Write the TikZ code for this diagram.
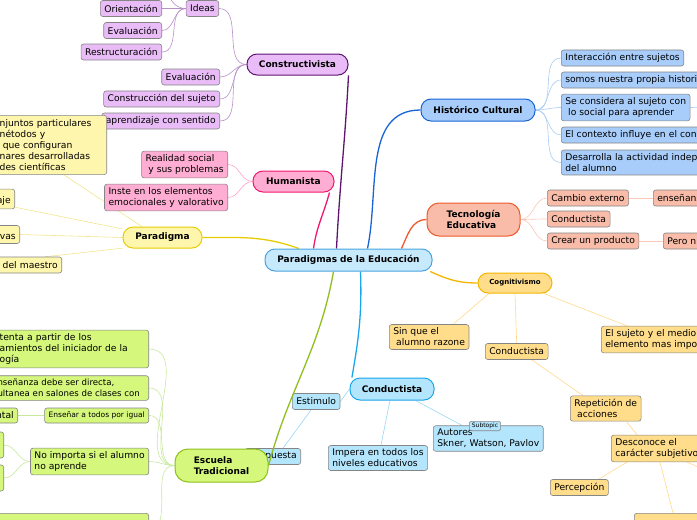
\documentclass[tikz,border=0pt]{standalone}
\usepackage{fontspec}
\setmainfont{DejaVu Sans}
\usetikzlibrary{calc}
\pgfdeclarelayer{bg}
\pgfsetlayers{bg,main}

\definecolor{centfill}{HTML}{C6E9FB}
\definecolor{centline}{HTML}{4AA3DF}
\definecolor{purfill}{HTML}{E9BCF7}
\definecolor{purdark}{HTML}{5E1470}
\definecolor{purlight}{HTML}{B890C8}
\definecolor{pinkfill}{HTML}{FFADD2}
\definecolor{pinkdark}{HTML}{F0186E}
\definecolor{pinklight}{HTML}{FFA0CC}
\definecolor{yelfill}{HTML}{FFF6AE}
\definecolor{yeldark}{HTML}{E6CC00}
\definecolor{yellight}{HTML}{F3E58E}
\definecolor{histfill}{HTML}{A8CDFA}
\definecolor{histdark}{HTML}{1864D4}
\definecolor{histlight}{HTML}{A8CCF4}
\definecolor{tecfill}{HTML}{F8BCA9}
\definecolor{tecdark}{HTML}{EE5A2C}
\definecolor{teclight}{HTML}{FAC6B6}
\definecolor{cogfill}{HTML}{FFDD8B}
\definecolor{cogdark}{HTML}{F4B500}
\definecolor{coglight}{HTML}{FFD98C}
\definecolor{condfill}{HTML}{B3E5FC}
\definecolor{conddark}{HTML}{19A6EA}
\definecolor{condlight}{HTML}{99D6F2}
\definecolor{escfill}{HTML}{D5F77C}
\definecolor{escdark}{HTML}{8EBF1E}
\definecolor{esclight}{HTML}{C8E89C}
\definecolor{leafline}{HTML}{858585}

\tikzset{
  topic/.style={draw, rounded corners=10pt, line width=1pt, inner sep=0pt,
    font=\fontsize{9}{11}\selectfont\bfseries},
  leaf/.style={draw=leafline, rounded corners=2.5pt, line width=0.6pt, align=left,
    inner xsep=4pt, inner ysep=3.4pt, minimum height=16pt},
  lleaf/.style={leaf, anchor=east},
  rleaf/.style={leaf, anchor=west},
  mainlink/.style={line width=1.3pt},
  leaflink/.style={line width=0.6pt},
}

\begin{document}
\begin{tikzpicture}[x=1pt, y=-1pt, every node/.style={font=\fontsize{9.2}{11}\selectfont}]
\useasboundingbox (0,0) rectangle (697,520);
\clip (0,0) rectangle (697,520);

% centre
\node[topic, fill=centfill, draw=centline, minimum width=167pt, minimum height=22pt] (cent) at (348.5,260) {Paradigmas de la Educación};

% Constructivista
\node[topic, fill=purfill, draw=purdark, minimum width=101pt, minimum height=21pt] (cons) at (297.5,64.5) {Constructivista};
\node[lleaf, fill=purfill] (ideas) at (219,8.5) {Ideas};
\node[lleaf, fill=purfill] (orient) at (162,8.5) {Orientación};
\node[lleaf, fill=purfill] (evalA) at (162,30.5) {Evaluación};
\node[lleaf, fill=purfill] (restr) at (162,52) {Restructuración};
\coordinate (ideasup) at (166,-14);
\node[lleaf, fill=purfill] (evalB) at (220,77) {Evaluación};
\node[lleaf, fill=purfill] (constr) at (220,99) {Construcción del sujeto};
\node[lleaf, fill=purfill] (aprend) at (220,121) {aprendizaje con sentido};

% Humanista
\node[topic, fill=pinkfill, draw=pinkdark, minimum width=81pt, minimum height=21pt] (hum) at (293.5,181.5) {Humanista};
\node[lleaf, fill=pinkfill] (realid) at (228,164.5) {Realidad social\\\ y sus problemas};
\node[lleaf, fill=pinkfill] (inste) at (228,197.5) {Inste en los elementos\\emocionales y valorativo};

% Paradigma
\node[topic, fill=yelfill, draw=yeldark, minimum width=79pt, minimum height=21pt] (parad) at (162.5,237.5) {Paradigma};
\node[lleaf, fill=yelfill, text width=103pt, inner ysep=4pt, font=\fontsize{9.2}{11}\selectfont] (conj) at (107,145) {njuntos particulares\\nétodos y\\\ que configuran\\nares desarrolladas\\des científicas};
\node[lleaf, fill=yelfill, text width=20pt, align=right] (aje) at (15,199) {~\\aje};
\node[lleaf, fill=yelfill, text width=25pt, align=right] (ivas) at (20,234.5) {~\\ivas};
\node[lleaf, fill=yelfill, text width=70pt, align=right] (maes) at (62,265) {r del maestro};

% Historico Cultural
\node[topic, fill=histfill, draw=histdark, minimum width=114pt, minimum height=22pt] (hist) at (478,110) {Histórico Cultural};
\node[rleaf, fill=histfill] (inter) at (561,58) {Interacción entre sujetos};
\node[rleaf, fill=histfill, text width=150pt] (somos) at (561,80) {somos nuestra propia historia};
\node[rleaf, fill=histfill] (consid) at (561,107.5) {Se considera al sujeto con\\\ lo social para aprender};
\coordinate (considR) at (712,108);
\node[rleaf, fill=histfill, text width=150pt] (contx) at (561,135) {El contexto influye en el conc};
\node[rleaf, fill=histfill, text width=150pt] (desar) at (561,162.5) {Desarrolla la actividad indepe\\del alumno};

% Tecnologia Educativa
\node[topic, fill=tecfill, draw=tecdark, rounded corners=12pt, minimum width=93pt, minimum height=33pt, align=left] (tec) at (473.5,219.5) {Tecnología\\Educativa};
\node[rleaf, fill=tecfill] (cambio) at (547,198) {Cambio externo};
\node[rleaf, fill=tecfill] (tcond) at (547,219) {Conductista};
\node[rleaf, fill=tecfill] (crear) at (547,241) {Crear un producto};
\node[rleaf, fill=tecfill, text width=60pt] (ensen) at (653,198) {enseñanz};
\node[rleaf, fill=tecfill, text width=60pt] (pero) at (663,241) {Pero n};

% Cognitivismo
\node[topic, fill=cogfill, draw=cogdark, minimum width=74pt, minimum height=20pt, font=\fontsize{7}{8}\selectfont\bfseries] (cog) at (515,283) {Cognitivismo};
\node[rleaf, fill=cogfill] (sinq) at (389,337) {Sin que el\\\ alumno razone};
\node[rleaf, fill=cogfill] (ccond) at (485,351.5) {Conductista};
\node[rleaf, fill=cogfill, text width=110pt] (suj) at (601,339.5) {El sujeto y el medio\\elemento mas impor};
\node[rleaf, fill=cogfill] (rep) at (570,408.5) {Repetición de\\\ acciones};
\node[rleaf, fill=cogfill] (desc) at (611,448.5) {Desconoce el\\carácter subjetivo};
\node[rleaf, fill=cogfill] (perc) at (550,487.5) {Percepción};
\node[leaf, fill=cogfill, anchor=north west, minimum width=90pt, minimum height=27pt] (cbot) at (634,513) {};
\coordinate (descR) at (712,473);

% Conductista
\node[lleaf, fill=condfill] (resp) at (301,456.5) {Respuesta};
\node[topic, fill=condfill, draw=conddark, minimum width=84pt, minimum height=22pt] (cond) at (392,389) {Conductista};
\node[rleaf, fill=condfill] (estim) at (292,401.5) {Estimulo};
\node[rleaf, fill=condfill] (imp) at (328,458) {Impera en todos los\\niveles educativos};
\node[rleaf, fill=condfill] (aut) at (433,438.5) {Autores\\Skner, Watson, Pavlov};
\node[draw=leafline, fill=condfill, rounded corners=1.5pt, line width=0.6pt, inner xsep=2.5pt, inner ysep=1.8pt, font=\fontsize{6}{7}\selectfont] (subt) at (485,426) {Subtopic};

% Escuela Tradicional
\node[topic, fill=escfill, draw=escdark, rounded corners=13pt, minimum width=93pt, minimum height=33pt, align=left] (esc) at (221.5,465.5) {Escuela\\Tradicional};
\node[lleaf, fill=escfill, text width=145pt] (sust) at (149,349) {tenta a partir de los\\amientos del iniciador de la\\ogía};
\node[lleaf, fill=escfill, minimum width=160pt, font=\fontsize{8.6}{11}\selectfont] (ense) at (149,388) {nseñanza debe ser directa,\\ultanea en salones de clases con};
\node[lleaf, fill=escfill, minimum height=15pt, inner ysep=2.5pt, font=\fontsize{7.5}{9}\selectfont] (igual) at (149,415.5) {Enseñar a todos por igual};
\node[lleaf, fill=escfill, minimum height=15pt, inner ysep=2.5pt, text width=30pt, align=right] (ntal) at (18,415.5) {ntal};
\node[lleaf, fill=escfill] (noimp) at (149,461.5) {No importa si el alumno\\no aprende};
\node[lleaf, fill=escfill, minimum width=24pt, minimum height=26pt] (noA) at (4,445) {};
\node[lleaf, fill=escfill, minimum width=24pt, minimum height=26pt] (noB) at (4,478) {};
\node[leaf, fill=escfill, anchor=north east, minimum width=153pt, minimum height=30pt] (ebot) at (149,513) {};

\begin{pgfonlayer}{bg}
% main branches
\draw[mainlink, purdark] ($(cent.north)+(-12,0)$) to[out=87,in=-93] (cons.-12);
\draw[mainlink, pinkdark] ($(cent.north)+(-35,0)$) to[out=82,in=-105] (hum.-17);
\draw[mainlink, yeldark] (cent.167) to[out=160,in=0] (parad.east);
\draw[mainlink, histdark] ($(cent.north)+(19,0)$) to[out=78,in=180] (hist.west);
\draw[mainlink, tecdark] ($(cent.north)+(53,0)$) to[out=65,in=180] (tec.west);
\draw[mainlink, cogdark] (cent.-8) to[out=-25,in=180] (cog.west);
\draw[mainlink, conddark] ($(cent.south)+(12,0)$) to[out=-88,in=80] (cond.164);

% Constructivista
\foreach \c in {ideas,evalB,constr,aprend}
  \draw[leaflink, purlight] (cons.west) to[out=180,in=0] (\c.east);
\foreach \c in {orient,evalA,restr}
  \draw[leaflink, purlight] (ideas.west) to[out=180,in=0] (\c.east);
\draw[leaflink, purlight] (ideas.west) to[out=180,in=-80] (ideasup);

% Humanista
\foreach \c in {realid,inste}
  \draw[leaflink, pinklight] (hum.west) to[out=180,in=0] (\c.east);

% Paradigma
\draw[leaflink, yellight] (parad.152) -- (conj.-67);
\draw[leaflink, yellight] (parad.168) -- ($(aje.south east)+(0,-2)$);
\draw[leaflink, yellight] (parad.west) -- (ivas.east);
\draw[leaflink, yellight] (parad.195) -- ($(maes.north east)+(-17,0)$);

% Historico Cultural
\foreach \c in {inter,somos,consid,contx,desar}
  \draw[leaflink, histlight] (hist.east) to[out=0,in=180] (\c.west);
\draw[leaflink, histlight] (consid.east) -- (considR);

% Tecnologia Educativa
\foreach \c in {cambio,tcond,crear}
  \draw[leaflink, teclight] (tec.east) to[out=0,in=180] (\c.west);
\draw[leaflink, teclight] (cambio.east) -- (ensen.west);
\draw[leaflink, teclight] (crear.east) -- (pero.west);

% Cognitivismo
\draw[leaflink, coglight] (cog.-158) -- ($(sinq.north)+(24,0)$);
\draw[leaflink, coglight] (cog.south) -- (ccond.north);
\draw[leaflink, coglight] (cog.-20) -- ($(suj.north west)+(26,0)$);
\draw[leaflink, coglight] ($(ccond.south)+(15,0)$) -- ($(rep.north west)+(13,0)$);
\draw[leaflink, coglight] ($(rep.south east)+(-15,0)$) -- ($(desc.north west)+(26,0)$);
\draw[leaflink, coglight] ($(desc.south west)+(16,0)$) -- ($(perc.north east)+(-10,0)$);
\draw[leaflink, coglight] ($(desc.south west)+(49,0)$) -- ($(cbot.north west)+(39,0)$);
\draw[leaflink, coglight] ($(desc.south west)+(76,0)$) -- (descR);

% Conductista
\draw[leaflink, condlight] (cond.west) -- (estim.east);
\draw[leaflink, condlight] ($(estim.south)+(-5,0)$) -- ($(resp.north east)+(-18,0)$);
\draw[leaflink, condlight] ($(cond.south)+(-2,0)$) -- ($(imp.north)+(3,0)$);
\draw[leaflink, condlight] (cond.-26) -- ($(aut.north west)+(29,0)$);

% Escuela Tradicional
\foreach \c in {sust,ense,igual,noimp,ebot}
  \draw[leaflink, esclight] (esc.west) to[out=180,in=0] (\c.east);
\draw[leaflink, esclight] (igual.west) -- (ntal.east);
\foreach \c in {noA,noB}
  \draw[leaflink, esclight] (noimp.west) to[out=180,in=0] (\c.east);
\end{pgfonlayer}

\draw[mainlink, escdark] ($(cent.south)+(-15,0)$) to[out=-100,in=75] (esc.east);
\end{tikzpicture}
\end{document}
